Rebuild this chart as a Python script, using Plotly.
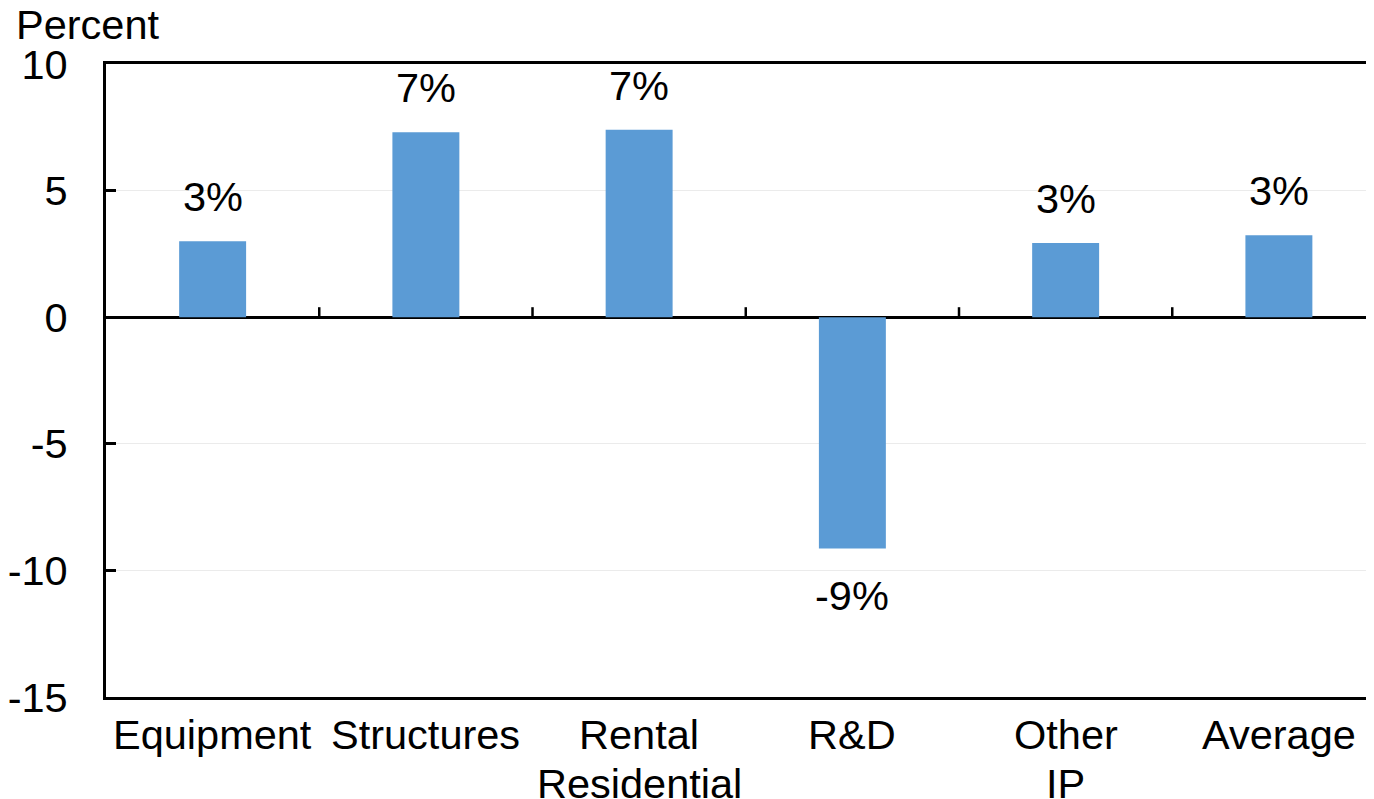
import plotly.graph_objects as go

categories = ["Equipment", "Structures", "Rental\nResidential", "R&D", "Other\nIP", "Average"]
values = [3.0, 7.3, 7.4, -9.14, 2.93, 3.24]
labels = ["3%", "7%", "7%", "-9%", "3%", "3%"]
y_ticks = [-15, -10, -5, 0, 5, 10]
y_tick_text = ["-15", "-10", "-5", "0", "5", "10"]

FONT = "Liberation Sans, Arial, sans-serif"
FS = 41.5
BAR_COLOR = "#5B9BD5"

fig = go.Figure()
fig.add_trace(go.Bar(
    x=list(range(len(categories))), y=values,
    marker=dict(color=BAR_COLOR, line=dict(width=0)),
    width=0.314, hoverinfo="skip", showlegend=False,
))

# data labels
for i, (v, t) in enumerate(zip(values, labels)):
    if v >= 0:
        fig.add_annotation(x=i, y=v, text=t, showarrow=False, yanchor="bottom",
                           yshift=19, font=dict(size=FS, color="black", family=FONT))
    else:
        fig.add_annotation(x=i, y=v, text=t, showarrow=False, yanchor="top",
                           yshift=-21, font=dict(size=FS, color="black", family=FONT))

# category labels (one annotation per line for tighter line spacing)
for i, c in enumerate(categories):
    for k, line in enumerate(c.split("\n")):
        fig.add_annotation(x=i, xref="x", y=0, yref="paper", text=line, showarrow=False,
                           yanchor="top", yshift=-12 - 49 * k,
                           font=dict(size=FS, color="black", family=FONT))

# category boundary ticks on the zero line
for i in range(len(categories) - 1):
    fig.add_shape(type="line", xref="x", yref="y", x0=i + 0.5, x1=i + 0.5,
                  ysizemode="pixel", yanchor=0, y0=0, y1=10,
                  line=dict(color="black", width=2.5))

fig.add_annotation(text="Percent", xref="paper", yref="paper", x=0, y=1,
                   xanchor="left", yanchor="bottom", xshift=-92, yshift=14,
                   showarrow=False, font=dict(size=FS, color="black", family=FONT))

fig.update_layout(
    width=1366, height=791,
    margin=dict(l=98, r=0, t=56, b=102),
    paper_bgcolor="white", plot_bgcolor="white",
    font=dict(family=FONT, size=FS, color="black"),
    xaxis=dict(
        tickmode="array", tickvals=list(range(len(categories))),
        showticklabels=False, automargin=False,
        range=[-0.5, 5.446], showgrid=False, zeroline=False,
        showline=True, linecolor="black", linewidth=3, mirror=True,
        ticks="",
    ),
    yaxis=dict(
        range=[-15, 10], tickmode="array", tickvals=y_ticks, ticktext=y_tick_text,
        ticks="inside", ticklen=10, tickwidth=2.5, automargin=False,
        tickcolor="black", showline=True, linecolor="black", linewidth=3,
        showgrid=True, gridcolor="#ebebeb", gridwidth=1,
        zeroline=True, zerolinecolor="black", zerolinewidth=3,
        tickfont=dict(size=FS, family=FONT, color="black"),
        ticklabelstandoff=27,
    ),
)

fig.write_html("out.html")
